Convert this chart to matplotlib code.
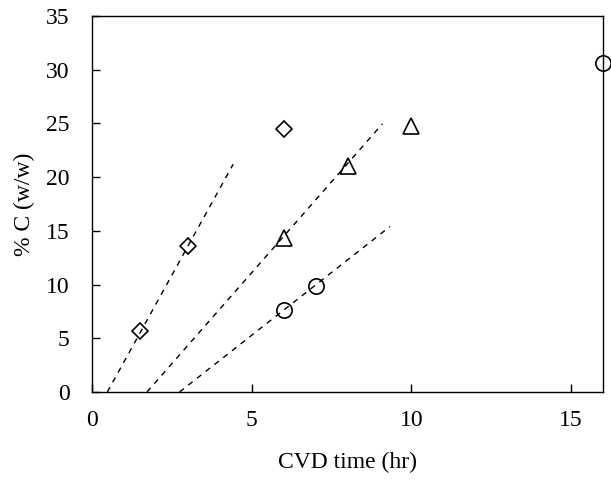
import matplotlib.pyplot as plt

plt.rcParams['font.family'] = ['Liberation Serif', 'DejaVu Serif']

# данные
diam_x = [1.5, 3.0, 6.0]
diam_y = [5.7, 13.6, 24.5]
tri_x = [6.0, 8.0, 10.0]
tri_y = [14.3, 21.0, 24.8]
circ_x = [6.0, 7.0, 16.0]
circ_y = [7.6, 9.9, 30.6]

# линии тренда (концы)
line1_x = [0.48, 4.42]
line1_y = [0.0, 21.2]
line2_x = [1.72, 9.09]
line2_y = [0.0, 24.95]
line3_x = [2.74, 9.33]
line3_y = [0.0, 15.4]

fig = plt.figure(figsize=(6.11, 4.82), dpi=100)
ax = fig.add_axes([0.1506, 0.1867, 0.8364, 0.7803])

for lx, ly in [(line1_x, line1_y), (line2_x, line2_y), (line3_x, line3_y)]:
    ax.plot(lx, ly, color='black', linestyle=(0, (4, 4)), linewidth=1.0)

ax.plot(diam_x, diam_y, linestyle='none', marker='D', markersize=8.5,
        markerfacecolor='none', markeredgecolor='black', markeredgewidth=1.2, clip_on=False)
ax.plot(tri_x, tri_y, linestyle='none', marker='^', markersize=11,
        markerfacecolor='none', markeredgecolor='black', markeredgewidth=1.2, clip_on=False)
ax.plot(circ_x, circ_y, linestyle='none', marker='o', markersize=11,
        markerfacecolor='none', markeredgecolor='black', markeredgewidth=1.2, clip_on=False)

ax.set_xlim(0, 16)
ax.set_ylim(0, 35)
ax.set_xticks([0, 5, 10, 15])
ax.set_yticks(range(0, 36, 5))
ax.tick_params(direction='in', length=6, width=1, labelsize=17, pad=16,
               top=False, right=False)
ax.tick_params(axis='x', pad=13)
for s in ax.spines.values():
    s.set_linewidth(1.0)

ax.set_xlabel('CVD time (hr)', fontsize=17, labelpad=15)
ax.set_ylabel('% C (w/w)', fontsize=17, labelpad=8)

fig.savefig('out.png', dpi=100)
